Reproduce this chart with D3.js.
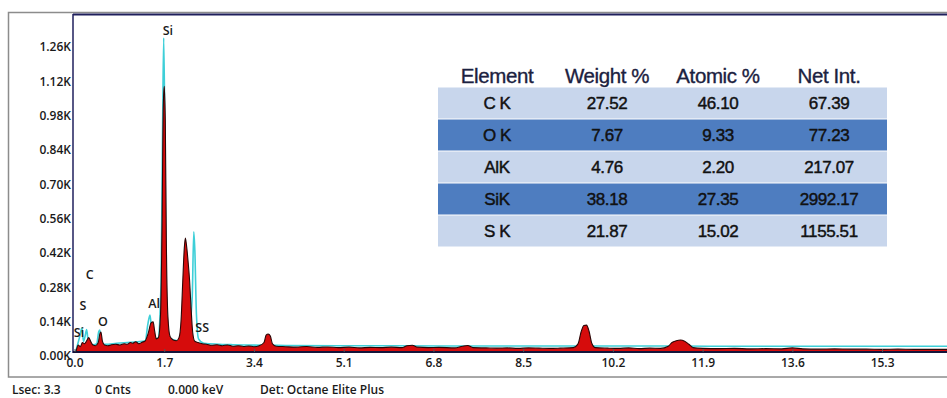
<!DOCTYPE html>
<html>
<head>
<meta charset="utf-8">
<script src="https://cdn.jsdelivr.net/npm/d3@7"></script>
<style>
  html, body { margin: 0; padding: 0; background: #fff; }
  svg { display: block; }
  .ui { font-family: "Open Sans", "DejaVu Sans", sans-serif; font-weight: 600; }
  .tbl { font-family: "Liberation Sans", Arial, sans-serif; }
</style>
</head>
<body>
<svg id="chart" width="947" height="398"></svg>
<script>
// EDS spectrum: energy (keV) / counts, measured trace and marker trace
const measuredKeV = [0.00,0.03,0.07,0.11,0.15,0.19,0.23,0.27,0.31,0.35,0.40,0.45,0.48,0.50,0.53,0.57,0.63,0.70,0.78,0.86,0.94,1.00,1.06,1.10,1.16,1.22,1.28,1.34,1.40,1.45,1.49,1.52,1.55,1.59,1.63,1.66,1.68,1.70,1.72,1.74,1.77,1.81,1.87,1.93,1.98,2.02,2.05,2.08,2.10,2.12,2.15,2.18,2.21,2.24,2.28,2.34,2.42,2.50,2.60,2.70,2.80,2.90,3.00,3.10,3.20,3.30,3.40,3.50,3.59,3.63,3.67,3.71,3.75,3.82,4.0,4.2,4.4,4.6,4.8,5.0,5.2,5.4,5.6,5.8,6.0,6.2,6.3,6.4,6.5,6.7,6.9,7.2,7.35,7.45,7.55,7.8,8.0,8.2,8.4,8.6,8.8,9.0,9.2,9.45,9.54,9.60,9.65,9.70,9.75,9.80,9.87,10.1,10.3,10.5,10.7,10.9,11.1,11.25,11.32,11.40,11.48,11.56,11.64,11.72,11.9,12.2,12.5,12.8,13.1,13.4,13.6,13.8,14.1,14.4,14.7,15.0,15.3,15.6,15.9,16.2,16.6];
const measuredCounts = [0,20,45,38,55,50,62,75,58,45,42,55,90,98,60,45,42,46,48,45,50,48,55,52,58,50,56,62,95,135,139,100,70,75,170,560,1000,1100,960,470,160,80,65,62,75,150,300,440,481,455,390,310,190,95,60,55,50,48,44,46,42,45,40,42,39,41,38,42,55,85,90,82,50,40,38,36,39,35,37,34,36,33,35,34,36,34,42,44,36,34,35,33,40,43,34,33,32,33,31,33,32,31,32,34,50,100,124,126,100,52,34,32,31,33,30,32,31,40,55,62,65,60,48,34,31,30,31,29,30,29,33,29,28,29,28,28,27,28,27,27,27];

const markerKeV = [0.00,0.05,0.10,0.14,0.17,0.20,0.23,0.26,0.30,0.36,0.42,0.46,0.48,0.51,0.58,0.80,1.00,1.20,1.34,1.39,1.43,1.46,1.50,1.58,1.64,1.67,1.69,1.71,1.74,1.80,1.95,2.05,2.15,2.23,2.26,2.28,2.31,2.35,2.45,3.0,4.0,5.0,6.0,7.0,8.0,9.0,10.0,11.0,12.0,13.0,14.0,15.0,16.6];
const markerCounts = [0,40,80,114,60,80,108,60,50,46,50,100,106,55,48,52,55,58,62,130,167,110,70,72,300,950,1297,950,240,75,62,65,80,240,506,430,170,70,52,46,43,42,42,41,41,41,41,41,40,40,40,40,40];

// Peak identification labels
const peakNames = ["Si","C","S","O","Si","Al","SS"];
const peakKeV = [1.77,0.29,0.16,0.54,0.085,1.51,2.42];
const peakLabelCounts = [1325,330,204,139,94,212,114];

// Axis ticks
const xTickValues = [0.0,1.7,3.4,5.1,6.8,8.5,10.2,11.9,13.6,15.3];
const yTickValues = [0,140,280,420,560,700,840,980,1120,1260];

// Quantification table
const tableHeaders = ["Element","Weight %","Atomic %","Net Int."];
const elements = ["C K","O K","AlK","SiK","S K"];
const weightPct = ["27.52","7.67","4.76","38.18","21.87"];
const atomicPct = ["46.10","9.33","2.20","27.35","15.02"];
const netInt = ["67.39","77.23","217.07","2992.17","1155.51"];

// Status line
const statusItems = ["Lsec: 3.3","0 Cnts","0.000 keV","Det: Octane Elite Plus"];
const statusX = [12, 95, 168, 260];

const svg = d3.select("#chart");

const plot = {left: 73, top: 15, right: 947, bottom: 352};
const x = d3.scaleLinear().domain([0, 16.53]).range([74.5, 947]);
const y = d3.scaleLinear().domain([0, 1260]).range([356, 47]);

// Outer frame
svg.append("rect")
  .attr("x", 8.5).attr("y", 12.5).attr("width", 960).attr("height", 364.5)
  .attr("fill", "#fff").attr("stroke", "#8c8c8c").attr("stroke-width", 1.5);

// Clip for the spectrum
svg.append("defs").append("clipPath").attr("id", "plotClip")
  .append("rect")
  .attr("x", plot.left).attr("y", plot.top)
  .attr("width", plot.right - plot.left).attr("height", plot.bottom - plot.top);

const measured = measuredKeV.map((e, i) => ({e, c: measuredCounts[i]}));
const marker = markerKeV.map((e, i) => ({e, c: markerCounts[i]}));

const g = svg.append("g").attr("clip-path", "url(#plotClip)");

const line = d3.line().x(d => x(d.e)).y(d => y(d.c)).curve(d3.curveMonotoneX);
const area = d3.area().x(d => x(d.e)).y0(y(0)).y1(d => y(d.c)).curve(d3.curveMonotoneX);

g.append("path").datum(marker)
  .attr("d", line).attr("fill", "none")
  .attr("stroke", "#3ecfd8").attr("stroke-width", 1.6);

g.append("path").datum(measured)
  .attr("d", area).attr("fill", "#d60c0c");

g.append("path").datum(measured)
  .attr("d", line).attr("fill", "none")
  .attr("stroke", "#2b0606").attr("stroke-width", 1.1);

// Plot frame
svg.append("line").attr("x1", plot.left).attr("x2", plot.right)
  .attr("y1", plot.top - 0.5).attr("y2", plot.top - 0.5)
  .attr("stroke", "#1f1f5c").attr("stroke-width", 2);
svg.append("line").attr("x1", plot.left).attr("x2", plot.left)
  .attr("y1", plot.top - 1).attr("y2", plot.bottom + 1)
  .attr("stroke", "#1f1f5c").attr("stroke-width", 1.5);
svg.append("line").attr("x1", plot.left).attr("x2", plot.right)
  .attr("y1", plot.bottom).attr("y2", plot.bottom)
  .attr("stroke", "#14143a").attr("stroke-width", 2);

// X axis
const xAxis = svg.append("g").attr("transform", `translate(0,${plot.bottom})`)
  .call(d3.axisBottom(x).tickValues(xTickValues).tickFormat(d3.format(".1f"))
    .tickSize(-3).tickPadding(6.5));
xAxis.select(".domain").remove();
xAxis.selectAll("line").attr("stroke", "#555");
xAxis.selectAll("text").attr("class", "ui").attr("font-size", 12).attr("fill", "#1a1a1a");

// Y axis
const yAxis = svg.append("g").attr("transform", `translate(${plot.left},0)`)
  .call(d3.axisLeft(y).tickValues(yTickValues)
    .tickFormat(d => (d / 1000).toFixed(2) + "K").tickSize(0).tickPadding(2));
yAxis.select(".domain").remove();
yAxis.selectAll("text").attr("class", "ui").attr("font-size", 12).attr("fill", "#1a1a1a");

// Peak labels
svg.append("g").selectAll("text").data(peakNames).join("text")
  .attr("class", "ui")
  .attr("x", (d, i) => x(peakKeV[i]))
  .attr("y", (d, i) => y(peakLabelCounts[i]))
  .attr("dy", "0.35em")
  .attr("text-anchor", "middle")
  .attr("font-size", 12.5).attr("fill", "#1a1a1a")
  .text(d => d);

// Quantification table
const colX = [497, 607, 718, 829];
const tableLeft = 438, tableRight = 887;
const rowTop = 87, rowH = 32;
const tbl = svg.append("g");

tbl.selectAll("text.hdr").data(tableHeaders).join("text")
  .attr("class", "tbl")
  .attr("x", (d, i) => colX[i]).attr("y", 76)
  .attr("dy", "0.35em").attr("text-anchor", "middle")
  .attr("font-size", 20.5).attr("fill", "#1b2140")
  .attr("stroke", "#1b2140").attr("stroke-width", 0.35)
  .attr("letter-spacing", -0.4)
  .text(d => d);

const rows = elements.map((el, i) => [el, weightPct[i], atomicPct[i], netInt[i]]);
const rowG = tbl.selectAll("g.row").data(rows).join("g")
  .attr("class", "row")
  .attr("transform", (d, i) => `translate(0,${rowTop + i * rowH})`);

rowG.append("rect")
  .attr("x", tableLeft).attr("y", 0.5)
  .attr("width", tableRight - tableLeft).attr("height", rowH - 1)
  .attr("fill", (d, i) => i % 2 === 0 ? "#c8d6ec" : "#4e7dc0");

rowG.selectAll("text").data(d => d).join("text")
  .attr("class", "tbl")
  .attr("x", (d, i) => colX[i]).attr("y", rowH / 2)
  .attr("dy", "0.35em").attr("text-anchor", "middle")
  .attr("font-size", 17).attr("fill", "#111")
  .attr("stroke", "#111").attr("stroke-width", 0.45)
  .attr("letter-spacing", -0.4)
  .text(d => d);

// Status line
svg.append("g").selectAll("text").data(statusItems).join("text")
  .attr("class", "ui")
  .attr("x", (d, i) => statusX[i]).attr("y", 389.5)
  .attr("dy", "0.35em")
  .attr("font-size", 12).attr("fill", "#1a1a1a")
  .text(d => d);
</script>
</body>
</html>
